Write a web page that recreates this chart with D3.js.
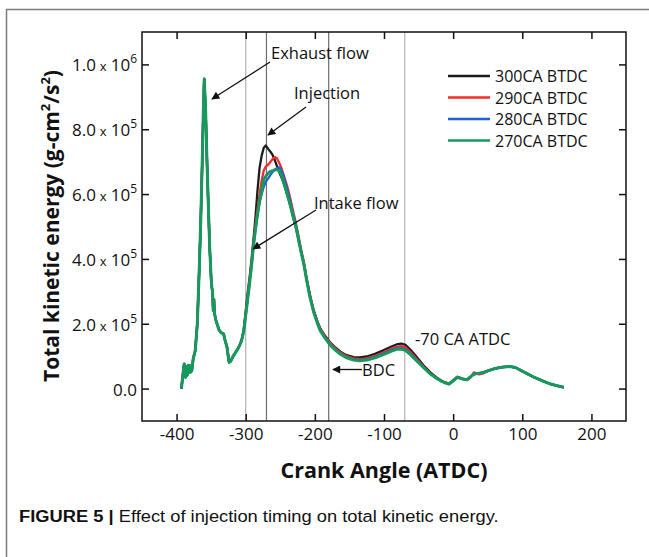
<!DOCTYPE html>
<html><head><meta charset="utf-8">
<script src="https://cdn.jsdelivr.net/npm/d3@7"></script>
<style>
html,body{margin:0;padding:0;background:#fff;}
svg{display:block;}
</style></head>
<body>
<script>
// ---------- DATA (kinetic energy in units of 1000 g-cm^2/s^2) ----------
const seriesNames = ["300CA BTDC", "290CA BTDC", "280CA BTDC", "270CA BTDC"];
const seriesColors = ["#1c1c1c", "#f52a2a", "#1d63d6", "#17995c"];

// identical part of all four curves (before injection)
const angleEarly = [-393,-391,-389,-388,-387,-386,-385,-384,-383,-382,
  -381,-380,-378,-376,-373,-370,-367,-365,-363,-361,
  -360,-358,-356,-354,-352,-350,-349,-348,-347,-346,
  -345,-343,-340,-338,-335,-332,-330,-327,-325,-324,
  -322,-318,-313,-310,-306];
const keEarly = [0,40,76,45,35,68,40,45,72,60,
  71,50,55,91,117,200,380,520,690,880,
  955,860,700,560,430,340,312,300,240,275,
  230,210,190,178,172,169,150,127,95,81,
  84,100,117,128,148];

const angleLate = [-303,-301,-298,-294,-291,-289,-286,-283,-280,-277,-274,
  -271,-267,-264,-261,-258,-255,-252,-249,-246,-243,-240,
  -237,-234,-231,-228,-225,-222,-219,-216,-212,-207,-202,
  -196,-192,-185,-178,-170,-163,-155,-144,-135,-125,-113,
  -101,-90,-82,-75,-69,-61,-53,-43,-33,-25,-18,
  -12,-6,0,6,13,20,25,30,37,44,52,
  59,70,83,90,97,107,117,130,141,150,160];

const ke300 = [180,218,280,350,410,455,525,610,680,718,742,
  750,738,730,720,705,688,670,655,640,620,598,
  576,551,525,502,473,442,413,386,338,286,243,
  205,185,162,143,126,114,104,97,96,99,107,
  118,129,136,139,135,118,98,72,50,36,26,
  19,15,25,36,31,28,36,44,47,50,56,
  61,66,68,65,57,46,35,23,14,9,4];
const ke290 = [176,211,265,340,398,443,500,552,600,640,672,
  685,692,700,708,714,711,698,684,665,645,624,
  600,572,543,516,485,452,420,392,342,289,244,
  205,184,160,141,123,111,101,93,91,93,101,
  111,122,129,131,127,111,92,68,47,34,25,
  19,15,23,36,30,27,34,50,44,47,56,
  61,66,68,65,57,46,35,23,14,9,4];
const ke280 = [176,210,262,336,393,437,490,535,572,600,622,
  638,650,660,668,675,680,683,676,660,638,615,
  590,563,535,510,479,446,415,387,338,284,240,
  201,180,157,138,120,108,98,90,88,90,98,
  108,118,124,125,121,106,88,66,46,33,24,
  18,14,24,35,30,27,36,45,47,50,56,
  61,66,68,65,57,46,35,23,14,9,4];
const ke270 = [175,209,260,332,390,435,490,537,580,609,645,
  655,666,670,672,675,676,672,662,642,622,600,
  578,553,527,505,475,442,412,384,335,281,238,
  199,178,155,135,118,106,96,88,86,88,95,
  105,115,121,121,118,103,86,65,45,33,24,
  18,14,24,35,30,27,36,45,47,50,56,
  61,66,68,65,57,46,35,23,14,9,4];
const lateValues = [ke300, ke290, ke280, ke270];

const xTicks = [-400,-300,-200,-100,0,100,200];
const yTicks = [0,200,400,600,800,1000];
const refLines = [-300,-270,-180,-70];
const refColors = ["#b4b4b4","#6e6e6e","#6e6e6e","#b4b4b4"];

// ---------- CHART ----------
const W = 649, H = 557;
const svg = d3.select("body").append("svg").attr("width", W).attr("height", H);
const X0 = 142, X1 = 626, Y0 = 32, Y1 = 421;
const x = d3.scaleLinear().domain([-450, 250]).range([X0, X1]);
const y = d3.scaleLinear().domain([-100, 1100]).range([Y1, Y0]);
const FONT = "'Open Sans', 'DejaVu Sans', sans-serif";

// outer frame (top & left)
svg.append("path").attr("d", `M6.5,${H} L6.5,9.5 L${W},9.5`)
  .attr("fill","none").attr("stroke","#7a7a7a").attr("stroke-width",1.5);

// reference vertical lines
svg.append("g").selectAll("line").data(refLines).join("line")
  .attr("x1", d => x(d)).attr("x2", d => x(d))
  .attr("y1", Y0).attr("y2", Y1)
  .attr("stroke", (d,i) => refColors[i]).attr("stroke-width", 1.2);

// curves
const line = d3.line().x(d => x(d[0])).y(d => y(d[1]));
seriesNames.forEach((name, i) => {
  const pts = angleEarly.map((a, j) => [a, keEarly[j]])
    .concat(angleLate.map((a, j) => [a, lateValues[i][j]]));
  svg.append("path").datum(pts)
    .attr("d", line)
    .attr("fill", "none")
    .attr("stroke", seriesColors[i])
    .attr("stroke-width", i === 3 ? 3 : 2.3)
    .attr("stroke-linejoin", "round");
});

// axes
const gx = svg.append("g").attr("transform", `translate(0,${Y1})`)
  .call(d3.axisBottom(x).tickValues(xTicks).tickSizeInner(-7).tickSizeOuter(0).tickPadding(7)
    .tickFormat(d => d));
const gxt = svg.append("g").attr("transform", `translate(0,${Y0})`)
  .call(d3.axisTop(x).tickValues(xTicks).tickSizeInner(-7).tickSizeOuter(0).tickFormat(""));
const gy = svg.append("g").attr("transform", `translate(${X0},0)`)
  .call(d3.axisLeft(y).tickValues(yTicks).tickSizeInner(-7).tickSizeOuter(0).tickFormat(""));
const gyr = svg.append("g").attr("transform", `translate(${X1},0)`)
  .call(d3.axisRight(y).tickValues(yTicks).tickSizeInner(-7).tickSizeOuter(0).tickFormat(""));
[gx, gxt, gy, gyr].forEach(g => {
  g.select(".domain").remove();
  g.selectAll(".tick line").attr("stroke", "#111").attr("stroke-width", 1.5);
});
gx.selectAll("text").attr("font-family", FONT).attr("font-size", 17).attr("fill", "#111");

// box
svg.append("rect").attr("x", X0).attr("y", Y0).attr("width", X1 - X0).attr("height", Y1 - Y0)
  .attr("fill", "none").attr("stroke", "#111").attr("stroke-width", 1.5);

// y tick labels in "m.m x 10^e" form
const yl = svg.append("g").attr("font-family", FONT).attr("fill", "#111");
yTicks.forEach(v => {
  const t = yl.append("text").attr("x", 137).attr("y", y(v) + 7).attr("text-anchor", "end")
    .attr("font-size", 17);
  if (v === 0) { t.text("0.0"); return; }
  const val = v * 1000;
  const e = Math.floor(Math.log10(val));
  const m = (val / Math.pow(10, e)).toFixed(1);
  t.append("tspan").text(m);
  t.append("tspan").attr("font-size", 13).attr("dx", 4).text("x");
  t.append("tspan").attr("dx", 4).text("10");
  t.append("tspan").attr("font-size", 12).attr("dy", -8).text(e);
});

// axis titles
const yt = svg.append("text").attr("transform", "translate(59,226) rotate(-90)")
  .attr("text-anchor", "middle").attr("font-family", FONT).attr("font-weight", "bold")
  .attr("font-size", 21).attr("fill", "#111");
yt.append("tspan").text("Total kinetic energy (g-cm");
yt.append("tspan").attr("font-size", 13).attr("dy", -9).text("2");
yt.append("tspan").attr("dy", 9).text("/s");
yt.append("tspan").attr("font-size", 13).attr("dy", -9).text("2");
yt.append("tspan").attr("dy", 9).text(")");

svg.append("text").attr("x", 384).attr("y", 478).attr("text-anchor", "middle")
  .attr("font-family", FONT).attr("font-weight", "bold").attr("font-size", 21.5).attr("fill", "#111")
  .text("Crank Angle (ATDC)");

// legend
const lg = svg.append("g");
seriesNames.forEach((n, i) => {
  const ly = 76 + i * 21.5;
  lg.append("line").attr("x1", 448).attr("x2", 490).attr("y1", ly).attr("y2", ly)
    .attr("stroke", seriesColors[i]).attr("stroke-width", 2.5);
  lg.append("text").attr("x", 495).attr("y", ly + 6).attr("font-family", FONT)
    .attr("font-size", 16).attr("fill", "#111").text(n);
});

// annotations
svg.append("defs").append("marker").attr("id", "ah").attr("viewBox", "0 0 10 10")
  .attr("refX", 9).attr("refY", 5).attr("markerWidth", 11).attr("markerHeight", 8)
  .attr("markerUnits", "userSpaceOnUse").attr("orient", "auto")
  .append("path").attr("d", "M0,0 L10,5 L0,10 Z").attr("fill", "#111");
const notes = [
  {t: "Exhaust flow", tx: 271, ty: 59, a: [270, 62, 212, 99]},
  {t: "Injection", tx: 294, ty: 99, a: [306, 107, 268, 135]},
  {t: "Intake flow", tx: 314, ty: 209, a: [316, 210, 253, 249]},
  {t: "BDC", tx: 362, ty: 376, a: [362, 369.5, 333, 369.5]},
  {t: "-70 CA ATDC", tx: 415, ty: 345, a: null}
];
notes.forEach(n => {
  svg.append("text").attr("x", n.tx).attr("y", n.ty).attr("font-family", FONT)
    .attr("font-size", 16.5).attr("fill", "#111").text(n.t);
  if (n.a) svg.append("line").attr("x1", n.a[0]).attr("y1", n.a[1]).attr("x2", n.a[2]).attr("y2", n.a[3])
    .attr("stroke", "#111").attr("stroke-width", 1.3).attr("marker-end", "url(#ah)");
});

// caption
const cap = svg.append("text").attr("font-family", "'Liberation Sans', Arial, sans-serif")
  .attr("font-size", 17).attr("fill", "#111");
cap.append("tspan").attr("font-weight", "bold").text("FIGURE 5 | ");
cap.append("tspan").text("Effect of injection timing on total kinetic energy.");
const cw = cap.node().getComputedTextLength();
cap.attr("transform", `translate(19,522) scale(${480 / cw},1)`);
</script>
</body></html>
